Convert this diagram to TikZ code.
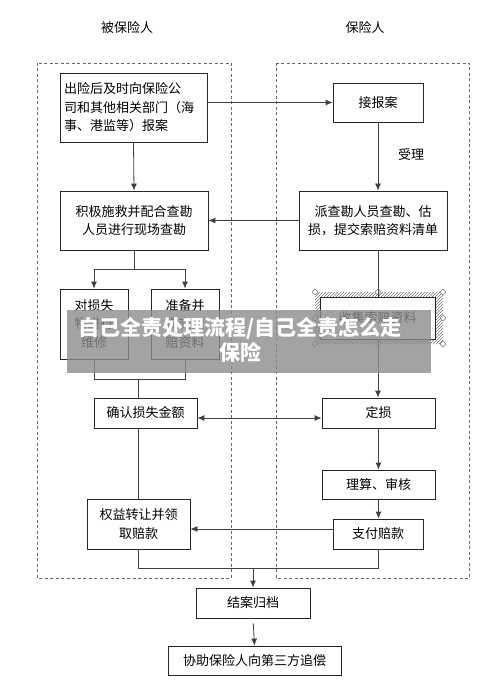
\documentclass[tikz,border=0pt]{standalone}
\usepackage{fontspec}
\setmainfont{Noto Sans CJK SC}
\usetikzlibrary{arrows.meta,patterns}

\begin{document}
\begin{tikzpicture}[%
  x=1pt, y=-1pt,
  >={Latex[length=7pt,width=6pt]},
  font=\fontsize{13}{18.5}\selectfont,
  box/.style={draw=black!85, line width=0.8pt, align=center, inner sep=2pt},
  panel/.style={draw=black!60, line width=0.8pt, dash pattern=on 3pt off 2.5pt},
  flow/.style={draw=black!75, line width=0.8pt},
  arr/.style={flow, ->},
  handle/.style={circle, draw=black!55, fill=white, line width=0.6pt, inner sep=0pt, minimum size=5pt}]
\useasboundingbox (0,0) rectangle (500,684);

% lanes
\node (insured) at (127,28) {被保险人};
\node (insurer) at (365,28) {保险人};
\draw[panel] (37,63) rectangle (231,578);
\draw[panel] (276,63) rectangle (469,578);

% boxes
\node[box, minimum width=147pt, minimum height=69pt, text width=139pt, align=left] (report) at (133.5,107.5)
  {出险后及时向保险公\\司和其他相关部门（海\\事、港监等）报案};
\node[box, minimum width=90pt, minimum height=39pt] (accept) at (378,102.5) {接报案};
\node (handle) at (411,155) {受理};
\node[box, minimum width=148pt, minimum height=59pt] (rescue) at (134,220.5) {积极施救并配合查勘\\人员进行现场查勘};
\node[box, minimum width=148pt, minimum height=59pt] (survey) at (373,220.5) {派查勘人员查勘、估\\损，提交索赔资料清单};
\node[box, minimum width=68pt, minimum height=70pt] (repair) at (94,324) {对损失\\物进行\\维修};
\node[box, minimum width=68pt, minimum height=70pt] (prepare) at (185,324) {准备并\\提交索\\赔资料};

% selected box
\fill[pattern=north east lines, pattern color=black!55, even odd rule]
  (315,292) rectangle (443,344) (320,297) rectangle (435,339);
\node[box, fill=white, minimum width=115pt, minimum height=42pt] (collect) at (377.5,318) {收集索赔资料};
\foreach \hx/\hy in {315/292,378/292,443/292,315/318,443/318,315/344,378/344,443/344}
  \node[handle] at (\hx,\hy) {};

\node[box, minimum width=103pt, minimum height=30pt] (confirm) at (145.5,413) {确认损失金额};
\node[box, minimum width=113pt, minimum height=30pt] (assess) at (378.5,413) {定损};
\node[box, minimum width=113pt, minimum height=29pt] (audit) at (378.5,484.5) {理算、审核};
\node[box, minimum width=90pt, minimum height=30pt] (pay) at (378,534) {支付赔款};
\node[box, minimum width=103pt, minimum height=50pt] (transfer) at (138.5,524) {权益转让并领\\取赔款};
\node[box, minimum width=114pt, minimum height=30pt] (close) at (253,603) {结案归档};
\node[box, minimum width=173pt, minimum height=29pt] (assist) at (254.5,660.5) {协助保险人向第三方追偿};

% connectors
\coordinate (fork) at (0,269);
\coordinate (join) at (0,379);
\coordinate (merge) at (0,568);
\draw[arr] (report.east |- accept.west) -- (accept.west);
\draw[arr] (report.south) -- (rescue.north);
\draw[arr] (accept.south) -- (accept.south |- survey.north);
\draw[arr] (survey.west) -- (rescue.east);
\draw[flow] (rescue.south) -- (rescue.south |- fork);
\draw[arr] (rescue.south |- fork) -| (repair.north);
\draw[arr] (rescue.south |- fork) -| (prepare.north);
\draw[flow] (accept.south |- survey.south) -- (accept.south |- collect.north);
\draw[flow] (repair.south) |- (prepare.south |- join) -- (prepare.south);
\draw[flow] (transfer.north |- join) -- (transfer.north |- confirm.north);
\draw[arr] (accept.south |- collect.south) -- (accept.south |- assess.north);
\draw[flow, <->] ([yshift=-5pt]confirm.east) -- ([yshift=-5pt]confirm.east -| assess.west);
\draw[flow] (transfer.north |- confirm.south) -- (transfer.north);
\draw[arr] (assess.south) -- (audit.north);
\draw[arr] (audit.south) -- (audit.south |- pay.north);
\draw[arr] ([yshift=5pt]pay.west) -- ([yshift=5pt]pay.west -| transfer.east);
\draw[flow] (transfer.south) |- (pay.south |- merge) -- (pay.south);
\draw[arr] (close.north |- merge) -- (close.north);
\draw[arr, shorten <=5pt] (close.south) -- (assist.north);

% watermark
\fill[black!45, opacity=0.8] (67,310) rectangle (431,373);
\node[text=white, font=\fontsize{21}{25}\selectfont\bfseries, align=center] (mark) at (240,340)
  {自己全责处理流程/自己全责怎么走\\保险};
\end{tikzpicture}
\end{document}
